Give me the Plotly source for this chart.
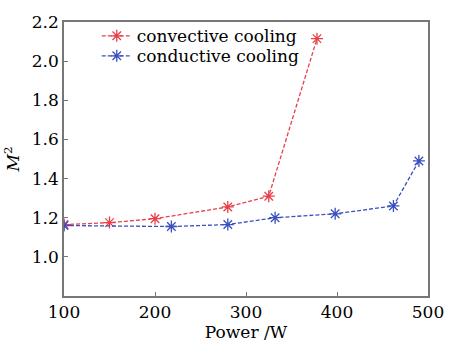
import plotly.graph_objects as go

red_x = [100, 150, 200, 280, 325, 378]
red_y = [1.165, 1.175, 1.195, 1.255, 1.31, 2.115]
blue_x = [100, 218, 280, 332, 398, 462, 490]
blue_y = [1.16, 1.155, 1.165, 1.20, 1.22, 1.26, 1.49]
y_ticks = [1.0, 1.2, 1.4, 1.6, 1.8, 2.0, 2.2]
x_ticks = [100, 200, 300, 400, 500]

font_family = "DejaVu Serif, Liberation Serif, serif"
RED = "#e8404a"
BLUE = "#3a4fc0"

fig = go.Figure()
fig.add_trace(go.Scatter(
    x=red_x, y=red_y, mode="lines+markers", name="convective cooling", legend="legend",
    line=dict(color=RED, width=1.3, dash="4px,2px"),
    marker=dict(symbol="asterisk-open", size=10, color=RED, line=dict(width=1.3, color=RED)),
))
fig.add_trace(go.Scatter(
    x=blue_x, y=blue_y, mode="lines+markers", name="conductive cooling", legend="legend2",
    line=dict(color=BLUE, width=1.3, dash="4px,2px"),
    marker=dict(symbol="asterisk-open", size=10, color=BLUE, line=dict(width=1.3, color=BLUE)),
))

leg_common = dict(xanchor="left", yanchor="middle", bgcolor="rgba(0,0,0,0)",
                  font=dict(size=17, family=font_family), itemwidth=30)

fig.update_layout(
    width=456, height=348,
    margin=dict(l=62, r=16, t=13, b=47),
    paper_bgcolor="white", plot_bgcolor="white",
    font=dict(family=font_family, size=17, color="black"),
    showlegend=True,
    legend=dict(x=0.09, y=(301 - 28) / 288, **leg_common),
    legend2=dict(x=0.09, y=(301 - 49) / 288, **leg_common),
    xaxis=dict(range=[100, 500], tickvals=x_ticks, ticks="inside", ticklen=4,
               tickcolor="#777", showgrid=False, zeroline=False,
               showline=True, linecolor="#777", linewidth=1.5, mirror=True,
               ticklabeloverflow="allow",
               title=dict(text="Power /W", font=dict(size=17), standoff=2),
               tickfont=dict(size=17)),
    yaxis=dict(range=[0.8, 2.2], tickvals=y_ticks, tickformat=".1f", ticks="inside", ticklen=4,
               tickcolor="#777", showgrid=False, zeroline=False,
               showline=True, linecolor="#777", linewidth=1.5, mirror=True,
               title=dict(text="<i>M</i><sup>2</sup>", font=dict(size=17), standoff=8),
               tickfont=dict(size=17)),
)

fig.write_html("out.html")
